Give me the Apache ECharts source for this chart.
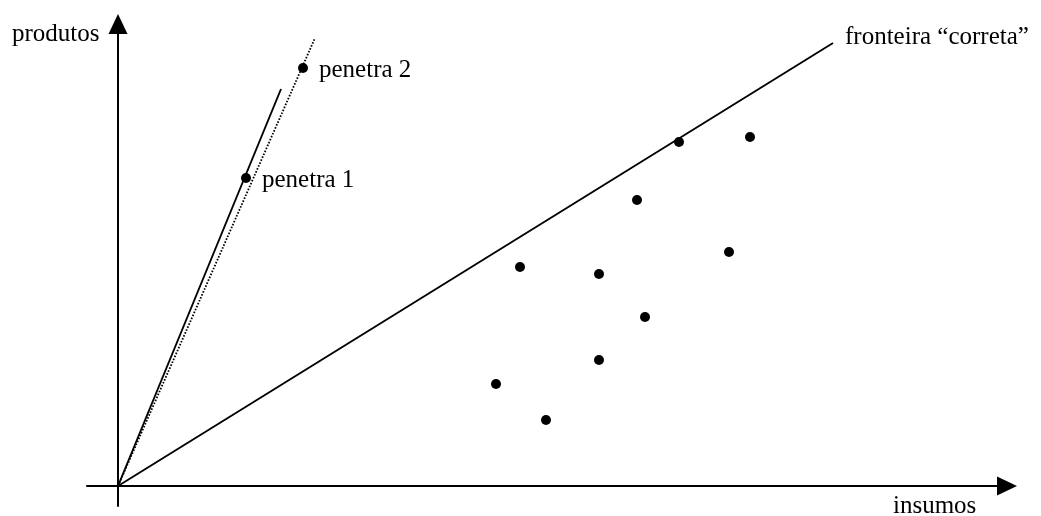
<!DOCTYPE html>
<html>
<head>
<meta charset="utf-8">
<script src="https://cdn.jsdelivr.net/npm/echarts@6/dist/echarts.min.js"></script>
<style>
  html, body { margin: 0; padding: 0; background: #ffffff; }
  #chart { width: 1041px; height: 516px; }
</style>
</head>
<body>
<div id="chart"></div>
<script>
// Observed units (inputs on x, outputs on y)
const insumos  = [561, 632, 519, 611, 402, 481, 527, 481, 378, 428];
const produtos = [344, 349, 286, 234, 219, 212, 169, 126, 102, 66];

// Outlier units that pull the frontier toward the y axis
const penetraNomes    = ['penetra 1', 'penetra 2'];
const penetraInsumos  = [128, 185];
const penetraProdutos = [308, 418];

// End points of the rays drawn from the origin
const raioPenetra1 = [163, 397];
const raioPenetra2 = [197, 448];
const fronteiraCorreta = [715, 443];

// Axis titles
const tituloX = 'insumos';
const tituloY = 'produtos';
const tituloFronteira = 'fronteira \u201ccorreta\u201d';

const FONT = "'Liberation Serif', 'Times New Roman', serif";
const FONT_SIZE = 25;
const INK = '#000000';

const chart = echarts.init(document.getElementById('chart'), null, { renderer: 'canvas' });

function ray(end) {
  return [[0, 0], end];
}

const axisCommon = {
  type: 'value',
  axisTick: { show: false },
  axisLabel: { show: false },
  splitLine: { show: false },
  axisLine: {
    show: true,
    onZero: true,
    symbol: ['none', 'triangle'],
    symbolSize: [19, 20],
    lineStyle: { color: INK, width: 2 }
  }
};

const option = {
  backgroundColor: '#ffffff',
  animation: false,
  grid: { left: 87, right: 34, top: 24, bottom: 10, containLabel: false },
  xAxis: Object.assign({}, axisCommon, { min: -31, max: 889 }),
  yAxis: Object.assign({}, axisCommon, { min: -20, max: 462 }),
  series: [
    {
      name: 'raio penetra 1',
      type: 'line',
      data: ray(raioPenetra1),
      showSymbol: false,
      clip: false,
      lineStyle: { color: INK, width: 1.9 }
    },
    {
      name: 'raio penetra 2',
      type: 'line',
      data: ray(raioPenetra2),
      showSymbol: false,
      clip: false,
      lineStyle: { color: INK, width: 1.8, type: [1.6, 1.6] }
    },
    {
      name: tituloFronteira,
      type: 'line',
      data: ray(fronteiraCorreta),
      showSymbol: false,
      clip: false,
      lineStyle: { color: INK, width: 1.9 }
    },
    {
      name: 'unidades',
      type: 'scatter',
      symbol: 'circle',
      symbolSize: 10,
      itemStyle: { color: INK, opacity: 1 },
      data: insumos.map((x, i) => [x, produtos[i]])
    },
    {
      name: 'penetra',
      type: 'scatter',
      symbol: 'circle',
      symbolSize: 10,
      itemStyle: { color: INK, opacity: 1 },
      label: {
        show: true,
        position: 'right',
        distance: 11,
        offset: [0, 2],
        color: INK,
        opacity: 1,
        fontFamily: FONT,
        fontSize: FONT_SIZE,
        formatter: p => penetraNomes[p.dataIndex]
      },
      data: penetraInsumos.map((x, i) => [x, penetraProdutos[i]])
    }
  ],
  graphic: [
    {
      type: 'text', left: 12, top: 22,
      style: { text: tituloY, fill: INK, font: FONT_SIZE + 'px ' + FONT }
    },
    {
      type: 'text', left: 845, top: 25,
      style: { text: tituloFronteira, fill: INK, font: FONT_SIZE + 'px ' + FONT }
    },
    {
      type: 'text', left: 893, top: 494,
      style: { text: tituloX, fill: INK, font: FONT_SIZE + 'px ' + FONT }
    }
  ]
};

chart.setOption(option);
</script>
</body>
</html>
